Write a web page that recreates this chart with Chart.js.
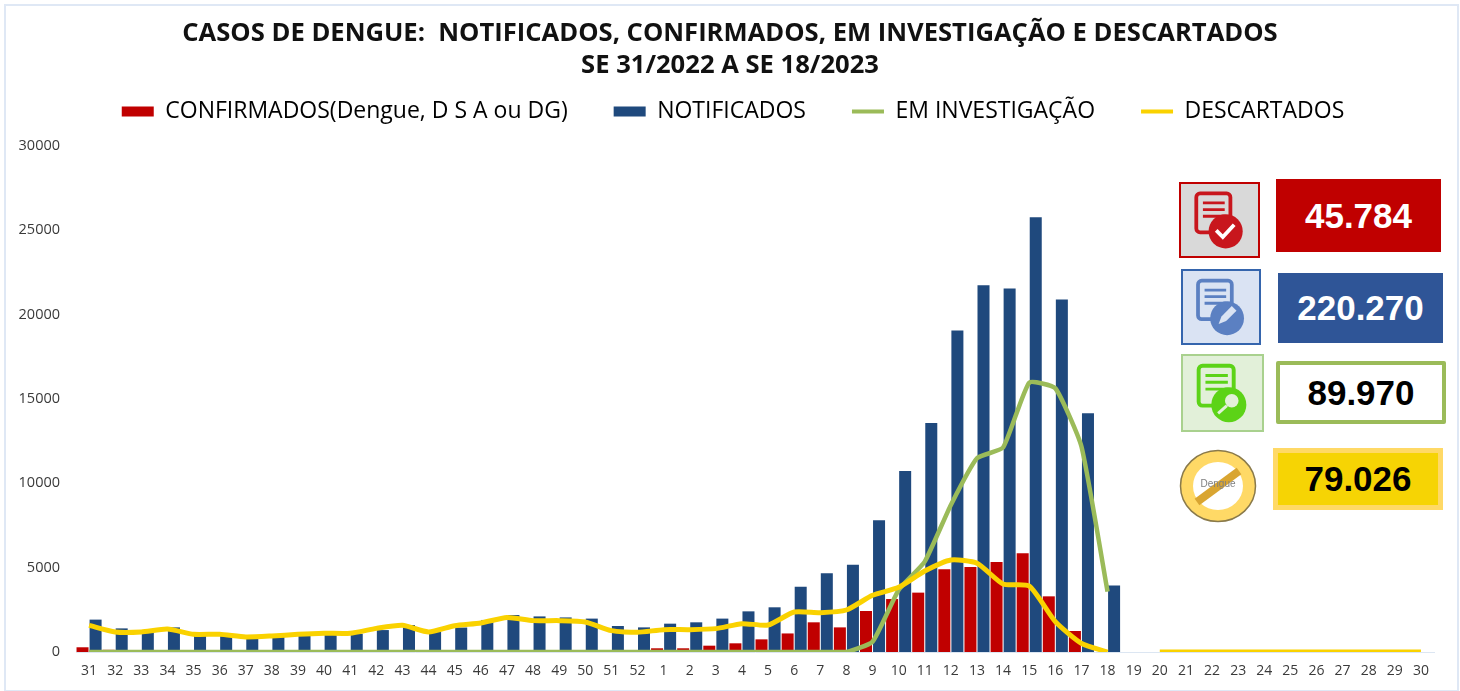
<!DOCTYPE html>
<html>
<head>
<meta charset="utf-8">
<title>Casos de dengue</title>
<script src="https://cdn.jsdelivr.net/npm/chart.js@4/dist/chart.umd.js"></script>
<style>
html, body { margin: 0; padding: 0; background: #fff; }
#frame { position: absolute; left: 4px; top: 4px; width: 1451px; height: 684px; border: 2px solid #dfe8f5; }
#wrap { position: absolute; left: 0; top: 0; width: 1460px; height: 691px; }
.kpi { position: absolute; box-sizing: border-box; display: flex; align-items: center; justify-content: center;
	font: bold 35px "Liberation Sans", Arial, sans-serif; }
.icon { position: absolute; box-sizing: border-box; }
.icon svg { display: block; width: 100%; height: 100%; }
</style>
</head>
<body>
<div id="frame"></div>
<div id="wrap"><canvas id="chart" width="1460" height="691"></canvas></div>

<div class="icon" style="left:1179px;top:182px;width:81px;height:76px;background:#d9d9d9;border:2px solid #c00000">
	<svg viewBox="0 0 81 76"><use href="#doc" style="color:#c8161d"/><path d="M37 49l7 7 12-13" fill="none" stroke="#fff" stroke-width="4"/></svg>
</div>
<div class="kpi" style="left:1276px;top:179px;width:165px;height:73px;background:#c00000;color:#fff">45.784</div>

<div class="icon" style="left:1181px;top:269px;width:80px;height:76px;background:#dae3f3;border:2px solid #3565ad">
	<svg viewBox="0 0 81 76"><use href="#doc" style="color:#5b80c2"/><path d="M38 56l3-8 11-11 5 5-11 11z" fill="#dae3f3"/></svg>
</div>
<div class="kpi" style="left:1278px;top:273px;width:165px;height:70px;background:#2f5597;color:#fff">220.270</div>

<div class="icon" style="left:1181px;top:354px;width:83px;height:78px;background:#e2f0d9;border:2px solid #a9d18e">
	<svg viewBox="0 0 81 76"><use href="#doc" style="color:#5cd317"/><circle cx="50" cy="46" r="7" fill="#e2f0d9"/><path d="M45 51l-9 8" stroke="#e2f0d9" stroke-width="3"/></svg>
</div>
<div class="kpi" style="left:1276px;top:361px;width:170px;height:63px;background:#fff;color:#000;border:4px solid #9bbb59;border-radius:2px">89.970</div>

<div class="icon" style="left:1179px;top:449px;width:78px;height:74px">
	<svg viewBox="0 0 78 74">
		<ellipse cx="39" cy="37" rx="37.5" ry="35.5" fill="#ffd966" stroke="#8a7a4a" stroke-width="1.5"/>
		<ellipse cx="39" cy="37" rx="25" ry="24" fill="#fff"/>
		<path d="M18 53L60 22" stroke="#d9a531" stroke-width="8"/>
		<text x="39" y="38" text-anchor="middle" font-family="Liberation Sans" font-size="10" fill="#7f7f7f">Dengue</text>
	</svg>
</div>
<div class="kpi" style="left:1273px;top:448px;width:170px;height:62px;background:#f6d404;color:#000;border:5px solid #ffd966">79.026</div>

<svg width="0" height="0" style="position:absolute">
	<defs>
		<g id="doc">
			<rect x="16" y="10" width="36" height="41" rx="4" fill="none" stroke="currentColor" stroke-width="4"/>
			<path d="M23 20h23M23 27h23M23 34h23" stroke="currentColor" stroke-width="3"/>
			<circle cx="47" cy="50" r="18" fill="currentColor"/>
		</g>
	</defs>
</svg>

<script>
const weeks = ['31','32','33','34','35','36','37','38','39','40','41','42','43','44','45','46','47','48','49','50','51','52',
	'1','2','3','4','5','6','7','8','9','10','11','12','13','14','15','16','17','18','19','20','21','22','23','24','25','26','27','28','29','30'];

const confirmados = [280,130,0,0,0,0,0,0,0,0,0,0,0,0,0,0,0,0,0,0,0,0,
	220,220,375,515,750,1100,1760,1460,2430,3140,3520,4900,5040,5340,5850,3300,1245,0,
	null,null,null,null,null,null,null,null,null,null,null,null];

const notificados = [1920,1400,1200,1460,1000,1000,880,950,1020,1050,1080,1300,1600,1200,1450,1900,2190,2110,2050,1980,1540,1460,
	1680,1760,1980,2410,2650,3875,4665,5180,7810,10735,13580,19060,21750,21550,25780,20900,14150,3950,
	null,null,null,null,null,null,null,null,null,null,null,null];

const investigacao = [0,0,0,0,0,0,0,0,0,0,0,0,0,0,0,0,0,0,0,0,0,0,
	0,0,0,0,0,0,0,0,610,3680,5360,8720,11490,12120,15970,15640,12180,3580,
	null,null,null,null,null,null,null,null,null,null,null,null];

const descartados = [1580,1190,1190,1360,1050,1050,890,950,1050,1110,1110,1400,1580,1190,1560,1720,2050,1860,1860,1780,1265,1165,
	1325,1325,1385,1680,1600,2370,2330,2490,3360,3835,4800,5455,5260,4030,3915,1800,515,0,
	null,0,0,0,0,0,0,0,0,0,0,0];

const titleLines = ['CASOS DE DENGUE:  NOTIFICADOS, CONFIRMADOS, EM INVESTIGAÇÃO E DESCARTADOS', 'SE 31/2022 A SE 18/2023'];

const RED = '#c00000', BLUE = '#1f497d', GREEN = '#9bbb59', YELLOW = '#fad200';
const TEXT = '#3a3a3a';

// the legend's big horizontal padding also counts vertically, so take it back out
// and re-centre title and legend on the page, the right padding pulls them left
const headerFit = {
	id: 'headerFit',
	beforeLayout(chart) {
		let legend = chart.legend;
		if (legend._fitWrapped) {
			return;
		}
		let fit = legend.fit;
		legend.fit = function() {
			fit.call(this);
			this.height = 64;
		};
		legend._fitWrapped = true;
	},
	afterLayout(chart) {
		let legend = chart.legend;
		let title = chart.titleBlock;
		legend.top -= 28;
		legend.left += 16;
		legend.right += 16;
		title.left += 13;
		title.right += 13;
	}
};

new Chart(document.getElementById('chart'), {
	type: 'bar',
	plugins: [headerFit],
	data: {
		labels: weeks,
		datasets: [
			{label: 'CONFIRMADOS(Dengue, D S A ou DG)', data: confirmados, backgroundColor: RED, order: 2},
			{label: 'NOTIFICADOS', data: notificados, backgroundColor: BLUE, order: 3},
			{type: 'line', label: 'EM INVESTIGAÇÃO', data: investigacao, borderColor: GREEN, backgroundColor: GREEN,
				borderWidth: 4.5, pointRadius: 0, tension: 0.15, order: 1, clip: 0},
			{type: 'line', label: 'DESCARTADOS', data: descartados, borderColor: YELLOW, backgroundColor: YELLOW,
				borderWidth: 5, pointRadius: 0, tension: 0.2, order: 0, clip: 0}
		]
	},
	options: {
		responsive: false,
		animation: false,
		layout: {padding: {left: 0, right: 26, top: 18, bottom: 0}},
		datasets: {bar: {categoryPercentage: 1, barPercentage: 0.92}},
		scales: {
			x: {
				afterFit: s => { s.height = 39; },
				grid: {display: false, drawTicks: false},
				border: {color: '#dce6f2'},
				ticks: {color: TEXT, font: {family: 'Open Sans', size: 14}, maxRotation: 0, autoSkip: false, padding: 11}
			},
			y: {
				min: 0,
				max: 30000,
				afterFit: s => { s.width = 76; },
				grid: {display: false, drawTicks: false},
				border: {display: false},
				ticks: {
					stepSize: 5000,
					color: TEXT,
					font: {family: 'Open Sans', size: 14.5},
					padding: 16,
					callback: v => String(v)
				}
			}
		},
		plugins: {
			tooltip: {enabled: false},
			title: {
				display: true,
				text: titleLines,
				color: '#111',
				font: {family: 'Open Sans', size: 25.6, weight: 'bold', lineHeight: 1.25},
				padding: 0
			},
			legend: {
				display: true,
				position: 'top',
				labels: {
					color: TEXT,
					font: {family: 'Open Sans', size: 23},
					usePointStyle: true,
					pointStyleWidth: 32,
					boxHeight: 10,
					padding: 46,
					generateLabels: chart => chart.data.datasets.map((d, i) => ({
						text: d.label,
						fillStyle: d.backgroundColor,
						strokeStyle: d.backgroundColor,
						lineWidth: d.type === 'line' ? 4 : 0,
						pointStyle: d.type === 'line' ? 'line' : 'rect',
						datasetIndex: i
					}))
				}
			}
		}
	}
});
</script>
</body>
</html>
